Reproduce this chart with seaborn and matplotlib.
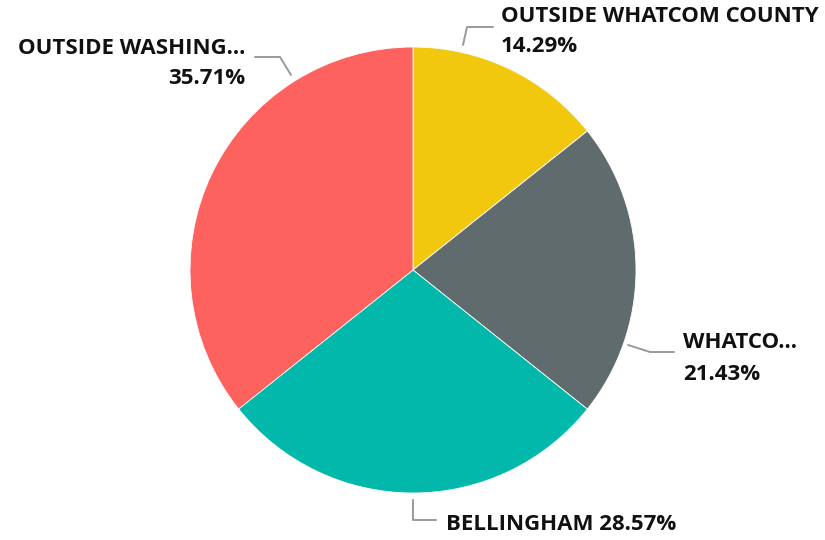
import matplotlib
matplotlib.use("Agg")
import matplotlib.pyplot as plt
import seaborn as sns

sns.set_theme(style="white")
plt.rcParams['font.family'] = ['Open Sans', 'DejaVu Sans']

# data
regions = ["OUTSIDE WHATCOM COUNTY", "WHATCO...", "BELLINGHAM", "OUTSIDE WASHING..."]
shares = [14.29, 21.43, 28.57, 35.71]
colors = ["#F2C80F", "#5F6B6D", "#01B8AA", "#FD625E"]

W, H = 825, 540
fig = plt.figure(figsize=(W / 100, H / 100), dpi=100)
ax = fig.add_axes([0, 0, 1, 1])

cx, cy, r = 413, H - 270, 223
ax.pie(shares, colors=colors, startangle=90, counterclock=False,
       center=(cx, cy), radius=r, frame=True,
       wedgeprops=dict(edgecolor="white", linewidth=0.6))
ax.set_xlim(0, W)
ax.set_ylim(0, H)
ax.set_aspect("equal")
ax.axis("off")

# leader lines (pixel coords from top-left)
line_col = "#9A9A9A"
leaders = [
    [(463, 45), (467, 27), (493, 27)],
    [(628, 345), (650, 352), (674, 352)],
    [(413, 500), (413, 520), (436, 520)],
    [(291, 75), (280, 57), (255, 57)],
]
for pts in leaders:
    ax.plot([p[0] for p in pts], [H - p[1] for p in pts], color=line_col, lw=1.4)

fs = 16
kw = dict(fontsize=fs, fontweight="bold", color="#111111", va="center")
dy = 2  # small nudge so cap-height centre lines up
# OUTSIDE WHATCOM COUNTY
ax.text(501, H - 15 - dy, regions[0], ha="left", **kw)
ax.text(501, H - 45 - dy, f"{shares[0]:.2f}%", ha="left", **kw)
# WHATCO...
ax.text(683, H - 341 - dy, regions[1], ha="left", **kw)
ax.text(683, H - 372 - dy, f"{shares[1]:.2f}%", ha="left", **kw)
# BELLINGHAM
ax.text(446, H - 523 - dy, f"{regions[2]} {shares[2]:.2f}%", ha="left", **kw)
# OUTSIDE WASHING...
ax.text(245, H - 47 - dy, regions[3], ha="right", **kw)
ax.text(245, H - 77 - dy, f"{shares[3]:.2f}%", ha="right", **kw)

fig.savefig("out.png", dpi=100)
